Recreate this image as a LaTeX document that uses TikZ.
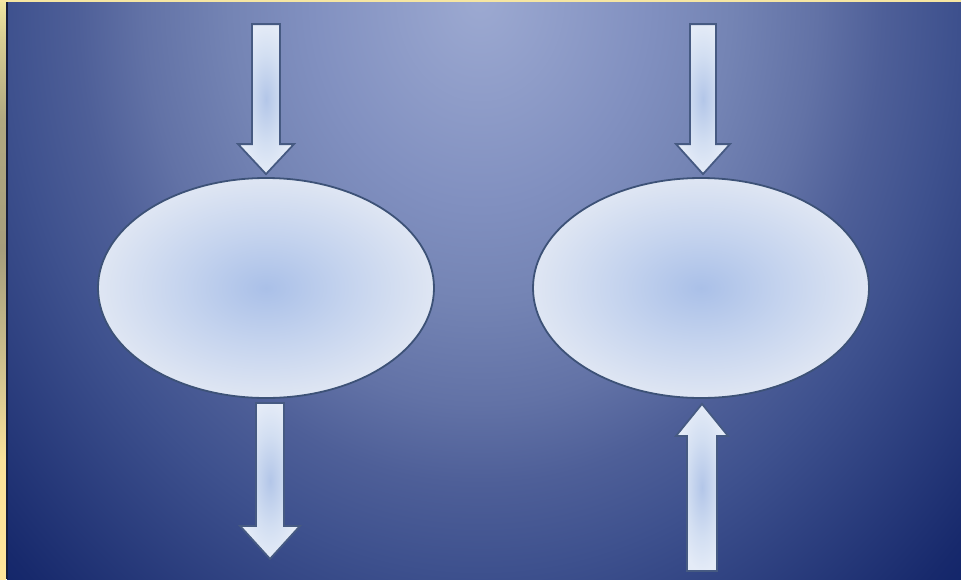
\documentclass[tikz,border=0pt]{standalone}
\usetikzlibrary{shapes.geometric,calc}
% background colours
\definecolor{bg0}{HTML}{9CA9D1}
\definecolor{bg1}{HTML}{8190C0}
\definecolor{bg2}{HTML}{7484B4}
\definecolor{bg3}{HTML}{6272A6}
\definecolor{bg4}{HTML}{4E5F98}
\definecolor{bg5}{HTML}{3E518E}
\definecolor{bg6}{HTML}{17296C}
\definecolor{bg7}{HTML}{12256A}
% border colours
\definecolor{bd0}{HTML}{F0E6A2}
\definecolor{bd1}{HTML}{D6CC92}
\definecolor{bd2}{HTML}{B0A880}
\definecolor{bd3}{HTML}{A69E7C}
\definecolor{bd4}{HTML}{D4C690}
\definecolor{bd5}{HTML}{FAE29A}
\definecolor{bd6}{HTML}{FFE69A}
\definecolor{topstrip}{HTML}{F6E6A2}
\definecolor{darkline}{HTML}{141C3C}
% shapes
\definecolor{ov0}{HTML}{AAC0E8}
\definecolor{ov1}{HTML}{C4D3EE}
\definecolor{ov2}{HTML}{DFE6F3}
\definecolor{ovedge}{HTML}{3D5277}
\definecolor{ar0}{HTML}{B3C6E8}
\definecolor{ar1}{HTML}{D3DFF2}
\definecolor{ar2}{HTML}{E4EBF7}
\definecolor{aredge}{HTML}{465A82}
\pgfdeclareradialshading{bgshade}{\pgfpointorigin}{color(0bp)=(bg0); color(6.1bp)=(bg1); color(9.1bp)=(bg2); color(12.2bp)=(bg3); color(14.6bp)=(bg4); color(17.2bp)=(bg5); color(23.9bp)=(bg6); color(25bp)=(bg7); color(50bp)=(bg7)}
\pgfdeclareverticalshading{bordershade}{100bp}{color(0bp)=(bd6); color(25bp)=(bd6); color(35.3bp)=(bd5); color(42.2bp)=(bd4); color(53.4bp)=(bd3); color(64.6bp)=(bd2); color(71.5bp)=(bd1); color(75bp)=(bd0); color(100bp)=(bd0)}
\pgfdeclareradialshading{ovalshade}{\pgfpointorigin}{color(0bp)=(ov0); color(12bp)=(ov1); color(25bp)=(ov2); color(50bp)=(ov2)}
\pgfdeclareradialshading{arrowshade}{\pgfpointorigin}{color(0bp)=(ar0); color(15bp)=(ar1); color(25bp)=(ar2); color(50bp)=(ar2)}
\tikzset{
  oval/.style={ellipse, draw=ovedge, line width=1.8pt, minimum width=336pt, minimum height=220pt, inner sep=0pt, shade, shading=ovalshade},
  blockarrow/.style={draw=aredge, line width=1.8pt, line join=miter, shade, shading=arrowshade}
}
\begin{document}
\begin{tikzpicture}[x=1pt,y=-1pt]
\useasboundingbox (0,0) rectangle (961,579);
% background
\begin{scope}
  \clip (7,2) rectangle (961,579);
  \shade[shading=bgshade] (480,0) ellipse [x radius=690, y radius=828];
\end{scope}
\shade[shading=bordershade] (0,0) rectangle (6,579);
\fill[topstrip] (0,0) rectangle (961,2);
\fill[darkline] (6,2) rectangle (7.5,579);
% ellipses
\node[oval] (e1) at (266,288) {};
\node[oval] (e2) at (701,288) {};
% arrow tips
\coordinate (t1) at ($(e1.north)+(0,-3)$);
\coordinate (t2) at ($(e1.south)+(4,160)$);
\coordinate (t3) at ($(e2.north)+(2,-3)$);
\coordinate (t4) at ($(e2.south)+(1,5)$);
% arrows
\path[blockarrow, shift={(t1)}] (-14,-150) -- (14,-150) -- (14,-30) -- (28,-30) -- (0,0) -- (-28,-30) -- (-14,-30) -- cycle;
\path[blockarrow, shift={(t2)}] (-14,-156) -- (14,-156) -- (14,-33) -- (30,-33) -- (0,0) -- (-30,-33) -- (-14,-33) -- cycle;
\path[blockarrow, shift={(t3)}] (-13,-150) -- (13,-150) -- (13,-30) -- (27,-30) -- (0,0) -- (-27,-30) -- (-13,-30) -- cycle;
\path[blockarrow, shift={(t4)}] (0,0) -- (26,32) -- (15,32) -- (15,167) -- (-15,167) -- (-15,32) -- (-26,32) -- cycle;
\end{tikzpicture}
\end{document}
